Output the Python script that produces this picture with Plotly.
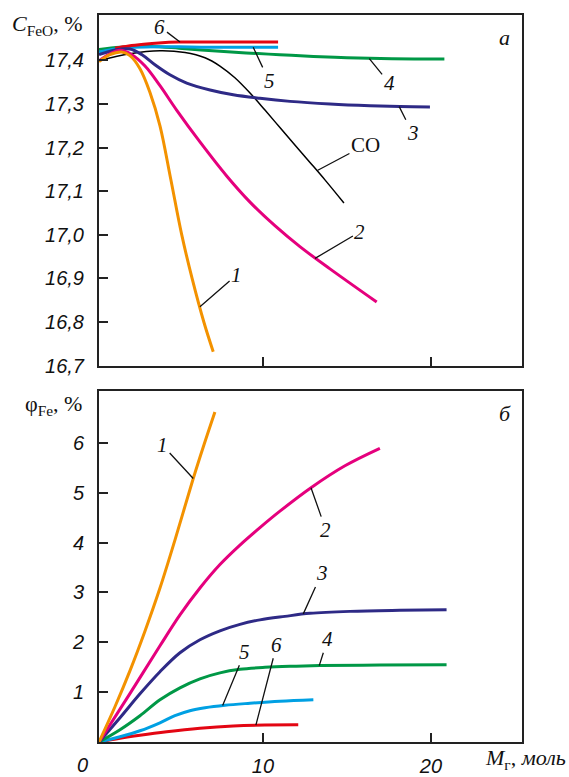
import plotly.graph_objects as go

# ---------------- data: top panel (C_FeO, %) ----------------
top_x1 = [0.24, 0.89, 1.59, 2.08, 2.68, 3.27, 3.87, 4.51, 5.16, 5.79, 6.49, 7.04]
top_y1 = [17.397, 17.413, 17.419, 17.411, 17.381, 17.327, 17.25, 17.128, 17.001, 16.899, 16.799, 16.732]

top_x2 = [0.24, 0.89, 1.49, 2.20, 2.98, 3.87, 4.86, 6.25, 7.84, 9.23, 10.71, 12.20, 13.99, 16.77]
top_y2 = [17.399, 17.415, 17.423, 17.413, 17.387, 17.342, 17.286, 17.213, 17.135, 17.075, 17.021, 16.973, 16.922, 16.846]

top_x3 = [0.24, 1.19, 2.08, 2.80, 3.57, 4.46, 5.46, 6.85, 8.23, 9.82, 11.61, 13.99, 16.37, 18.15, 19.94]
top_y3 = [17.413, 17.424, 17.426, 17.413, 17.390, 17.367, 17.348, 17.332, 17.321, 17.313, 17.306, 17.300, 17.296, 17.294, 17.293]

top_x4 = [0.24, 1.5, 3.3, 5.0, 7.0, 9.0, 11.0, 13.0, 15.0, 17.0, 19.0, 20.8]
top_y4 = [17.425, 17.43, 17.432, 17.428, 17.422, 17.417, 17.413, 17.409, 17.406, 17.404, 17.403, 17.403]

top_x5 = [0.24, 1.0, 2.0, 3.5, 5.0, 7.0, 9.0, 10.9]
top_y5 = [17.419, 17.425, 17.429, 17.431, 17.431, 17.430, 17.430, 17.430]

top_x6 = [1.2, 2.0, 2.9, 3.8, 5.0, 7.0, 9.0, 10.9]
top_y6 = [17.428, 17.433, 17.437, 17.440, 17.442, 17.442, 17.442, 17.442]

top_xco = [0.24, 2.08, 3.87, 5.36, 6.55, 7.44, 8.33, 9.23, 10.12, 11.01, 11.90, 12.80, 13.69, 14.82]
top_yco = [17.399, 17.415, 17.422, 17.418, 17.406, 17.387, 17.360, 17.325, 17.286, 17.246, 17.206, 17.166, 17.126, 17.073]

# ---------------- data: bottom panel (phi_Fe, %) ----------------
bot_x1 = [0.24, 1.19, 2.08, 2.98, 3.87, 4.76, 5.85, 6.49, 7.14]
bot_y1 = [0.0, 0.707, 1.427, 2.228, 3.089, 4.05, 5.285, 5.962, 6.619]

bot_x2 = [0.24, 2.08, 3.87, 5.06, 6.25, 7.44, 8.63, 9.82, 11.01, 12.86, 14.88, 16.96]
bot_y2 = [0.0, 0.97, 1.93, 2.55, 3.09, 3.56, 3.95, 4.30, 4.63, 5.10, 5.54, 5.89]

bot_x3 = [0.24, 1.49, 2.68, 3.87, 5.06, 6.25, 7.44, 8.63, 9.82, 11.31, 12.80, 15.18, 18.15, 20.93]
bot_y3 = [0.0, 0.487, 0.967, 1.41, 1.79, 2.05, 2.23, 2.36, 2.45, 2.52, 2.58, 2.62, 2.64, 2.65]

bot_x4 = [0.24, 1.49, 2.68, 3.87, 5.06, 6.25, 7.44, 8.63, 10.12, 11.61, 13.39, 16.96, 20.93]
bot_y4 = [0.0, 0.246, 0.527, 0.847, 1.087, 1.267, 1.387, 1.457, 1.497, 1.518, 1.532, 1.542, 1.548]

bot_x5 = [0.24, 1.49, 2.68, 3.87, 4.76, 5.65, 6.55, 7.74, 9.23, 11.01, 13.0]
bot_y5 = [0.0, 0.106, 0.226, 0.386, 0.527, 0.627, 0.687, 0.737, 0.777, 0.817, 0.847]

bot_x6 = [0.24, 1.49, 2.68, 4.27, 6.25, 8.23, 10.12, 12.1]
bot_y6 = [0.0, 0.076, 0.136, 0.206, 0.276, 0.322, 0.342, 0.346]

top_ticks = [16.7, 16.8, 16.9, 17.0, 17.1, 17.2, 17.3, 17.4]
top_ticktext = ["16,7", "16,8", "16,9", "17,0", "17,1", "17,2", "17,3", "17,4"]
bot_ticks = [1, 2, 3, 4, 5, 6]
x_ticks = [10, 20]

COLORS = {
    "1": "#F39200",
    "2": "#E5007D",
    "3": "#2E2A86",
    "4": "#009846",
    "5": "#00A0E3",
    "6": "#E30613",
    "CO": "#000000",
}

fig = go.Figure()

top_series = [
    ("CO", top_xco, top_yco, 1.5),
    ("4", top_x4, top_y4, 3),
    ("5", top_x5, top_y5, 3),
    ("6", top_x6, top_y6, 3),
    ("3", top_x3, top_y3, 3),
    ("2", top_x2, top_y2, 3),
    ("1", top_x1, top_y1, 3),
]
for name, xs, ys, w in top_series:
    fig.add_trace(go.Scatter(x=xs, y=ys, mode="lines", xaxis="x", yaxis="y",
                             line=dict(color=COLORS[name], width=w, shape="spline", smoothing=1.0),
                             showlegend=False, hoverinfo="skip"))

bot_series = [
    ("6", bot_x6, bot_y6),
    ("5", bot_x5, bot_y5),
    ("4", bot_x4, bot_y4),
    ("3", bot_x3, bot_y3),
    ("2", bot_x2, bot_y2),
    ("1", bot_x1, bot_y1),
]
for name, xs, ys in bot_series:
    fig.add_trace(go.Scatter(x=xs, y=ys, mode="lines", xaxis="x2", yaxis="y2",
                             line=dict(color=COLORS[name], width=3, shape="spline", smoothing=1.0),
                             showlegend=False, hoverinfo="skip"))

AX_COLOR = "#222222"
tickfont = dict(family="Liberation Sans, Arial", size=20, color="#111111", style="italic")

common_x = dict(range=[0.24, 25.42], showgrid=False, zeroline=False, showline=True,
                linecolor=AX_COLOR, linewidth=2, mirror=True, ticks="inside", ticklen=9,
                tickwidth=1.5, tickcolor=AX_COLOR, tickvals=x_ticks, automargin=False)
common_y = dict(showgrid=False, zeroline=False, showline=True, linecolor=AX_COLOR,
                linewidth=2, mirror=True, ticks="inside", ticklen=9, tickwidth=1.5,
                tickcolor=AX_COLOR, tickfont=tickfont, ticklabelstandoff=9, automargin=False)

fig.update_layout(
    width=569, height=777,
    margin=dict(l=99, r=47, t=15, b=35, autoexpand=False),
    paper_bgcolor="white", plot_bgcolor="white",
    xaxis=dict(**common_x, domain=[0, 1], anchor="y", showticklabels=False),
    yaxis=dict(**common_y, domain=[0.5176, 1], anchor="x", range=[16.7, 17.504],
               tickvals=top_ticks, ticktext=top_ticktext),
    xaxis2=dict(**common_x, domain=[0, 1], anchor="y2", tickfont=tickfont,
                ticktext=["10", "20"], ticklabelstandoff=5),
    yaxis2=dict(**common_y, domain=[0, 0.4828], anchor="x2", range=[0, 7.04],
                tickvals=bot_ticks, ticktext=[str(v) for v in bot_ticks]),
)

label_font = dict(family="Liberation Serif, Times New Roman", size=21, color="#111111")

def lab(text, tx, ty, px, py, xr, yr, italic=True):
    t = f"<i>{text}</i>" if italic else text
    fig.add_annotation(x=px, y=py, ax=tx, ay=ty, xref=xr, yref=yr, axref=xr, ayref=yr,
                       text=t, showarrow=True, arrowhead=0, arrowwidth=1.3,
                       arrowcolor="#111111", font=label_font, standoff=0)

# top panel labels
lab("6", 3.87, 17.477, 5.06, 17.442, "x", "y")
lab("5", 10.36, 17.353, 9.42, 17.430, "x", "y")
lab("4", 17.51, 17.348, 16.33, 17.404, "x", "y")
lab("3", 18.91, 17.233, 18.11, 17.294, "x", "y")
lab("CO", 16.1, 17.206, 13.21, 17.147, "x", "y", italic=False)
lab("2", 15.77, 17.007, 13.1, 16.946, "x", "y")
lab("1", 8.43, 16.908, 6.25, 16.835, "x", "y")
# bottom panel labels
lab("1", 4.03, 5.95, 5.85, 5.285, "x2", "y2")
lab("2", 13.75, 4.25, 12.86, 5.10, "x2", "y2")
lab("3", 13.49, 3.38, 12.4, 2.57, "x2", "y2")
lab("4", 13.85, 2.06, 13.35, 1.532, "x2", "y2")
lab("5", 8.93, 1.81, 7.6, 0.733, "x2", "y2")
lab("6", 10.82, 1.95, 9.58, 0.337, "x2", "y2")

big_font = dict(family="Liberation Serif, Times New Roman", size=22, color="#111111")
fig.add_annotation(x=24.35, y=17.452, xref="x", yref="y", text="<i>а</i>", showarrow=False, font=big_font)
fig.add_annotation(x=24.4, y=6.59, xref="x2", yref="y2", text="<i>б</i>", showarrow=False, font=big_font)

fig.add_annotation(x=-0.21, y=0.986, xref="paper", yref="paper", xanchor="left", yanchor="middle",
                   text="<i>C</i><sub>FeO</sub>, %", showarrow=False, font=big_font)
fig.add_annotation(x=-0.18, y=0.4635, xref="paper", yref="paper", xanchor="left", yanchor="middle",
                   text="φ<sub>Fe</sub>, %", showarrow=False, font=big_font)
fig.add_annotation(x=1.109, y=-0.024, xref="paper", yref="paper", xanchor="right", yanchor="middle",
                   text="<i>M</i><sub>г</sub>, <i>моль</i>", showarrow=False,
                   font=dict(family="Liberation Serif, Times New Roman", size=22, color="#111111"))
fig.add_annotation(x=-0.040, y=-0.0316, xref="paper", yref="paper", xanchor="center", yanchor="middle",
                   text="0", showarrow=False, font=tickfont)

fig.write_html("out.html")
